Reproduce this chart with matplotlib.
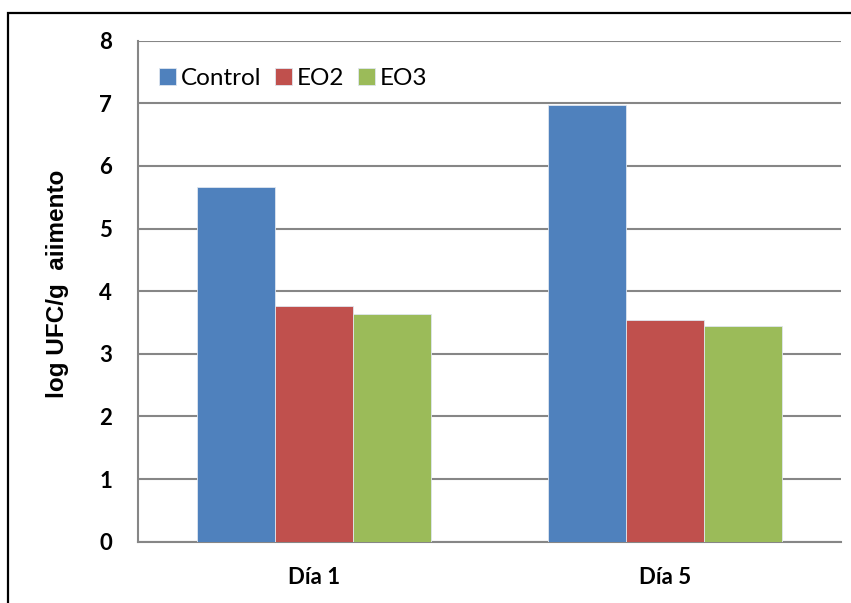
import numpy as np
import matplotlib
matplotlib.use("Agg")
import matplotlib.pyplot as plt
from matplotlib.patches import Rectangle

# =========================
# DATA
# =========================

DAYS = ["Día 1", "Día 5"]
SERIES = ["Control", "EO2", "EO3"]

control = [5.67, 6.98]
eo2 = [3.77, 3.54]
eo3 = [3.64, 3.45]

COLORS = ["#4F81BD", "#C0504D", "#9BBB59"]
GRID = "#868686"

# =========================
# FIGURE
# =========================

fig = plt.figure(figsize=(8.51, 6.03), dpi=100)
ax = fig.add_axes([0.1627, 0.1017, 0.8253, 0.8308])

x = np.arange(len(DAYS))
width = 0.222

for i, (name, vals) in enumerate(zip(SERIES, [control, eo2, eo3])):
    ax.bar(
        x + (i - 1) * width,
        vals,
        width,
        color=COLORS[i],
        edgecolor="#dfe6ef",
        linewidth=0.6,
        label=name,
        zorder=3
    )

ax.set_xlim(-0.5, 1.5)
ax.set_ylim(0, 8)
ax.set_yticks(range(0, 9))

ax.yaxis.grid(True, color=GRID, linewidth=1.5, zorder=0)
ax.set_axisbelow(True)

for side in ["top", "right"]:
    ax.spines[side].set_visible(False)
for side in ["left", "bottom"]:
    ax.spines[side].set_color(GRID)
    ax.spines[side].set_linewidth(1.5)

ax.tick_params(axis="both", length=0)
ax.tick_params(axis="y", pad=19)
ax.tick_params(axis="x", pad=18)

ax.set_xticks(x)
ax.set_xticklabels(DAYS)

for lbl in ax.get_yticklabels() + ax.get_xticklabels():
    lbl.set_fontfamily("Lato")
    lbl.set_fontweight("bold")
    lbl.set_fontsize(16)

fig.text(
    0.067, 0.53,
    "log UFC/g  aiimento",
    rotation=90,
    ha="center", va="center",
    fontsize=17.5, fontweight="bold",
    family="Liberation Sans"
)

leg = ax.legend(
    loc="upper left",
    bbox_to_anchor=(0.187, 0.887),
    bbox_transform=fig.transFigure,
    ncol=3,
    frameon=False,
    prop={"family": "Lato", "size": 17.5},
    handlelength=0.7,
    handleheight=0.7,
    handletextpad=0.2,
    columnspacing=0.55,
    borderaxespad=0,
    borderpad=0
)

# outer frame
fig.add_artist(Rectangle(
    (0.0098, -0.05), 1.05, 1.029,
    transform=fig.transFigure,
    fill=False, edgecolor="black", linewidth=1.6
))

fig.savefig("out.png", dpi=100)
